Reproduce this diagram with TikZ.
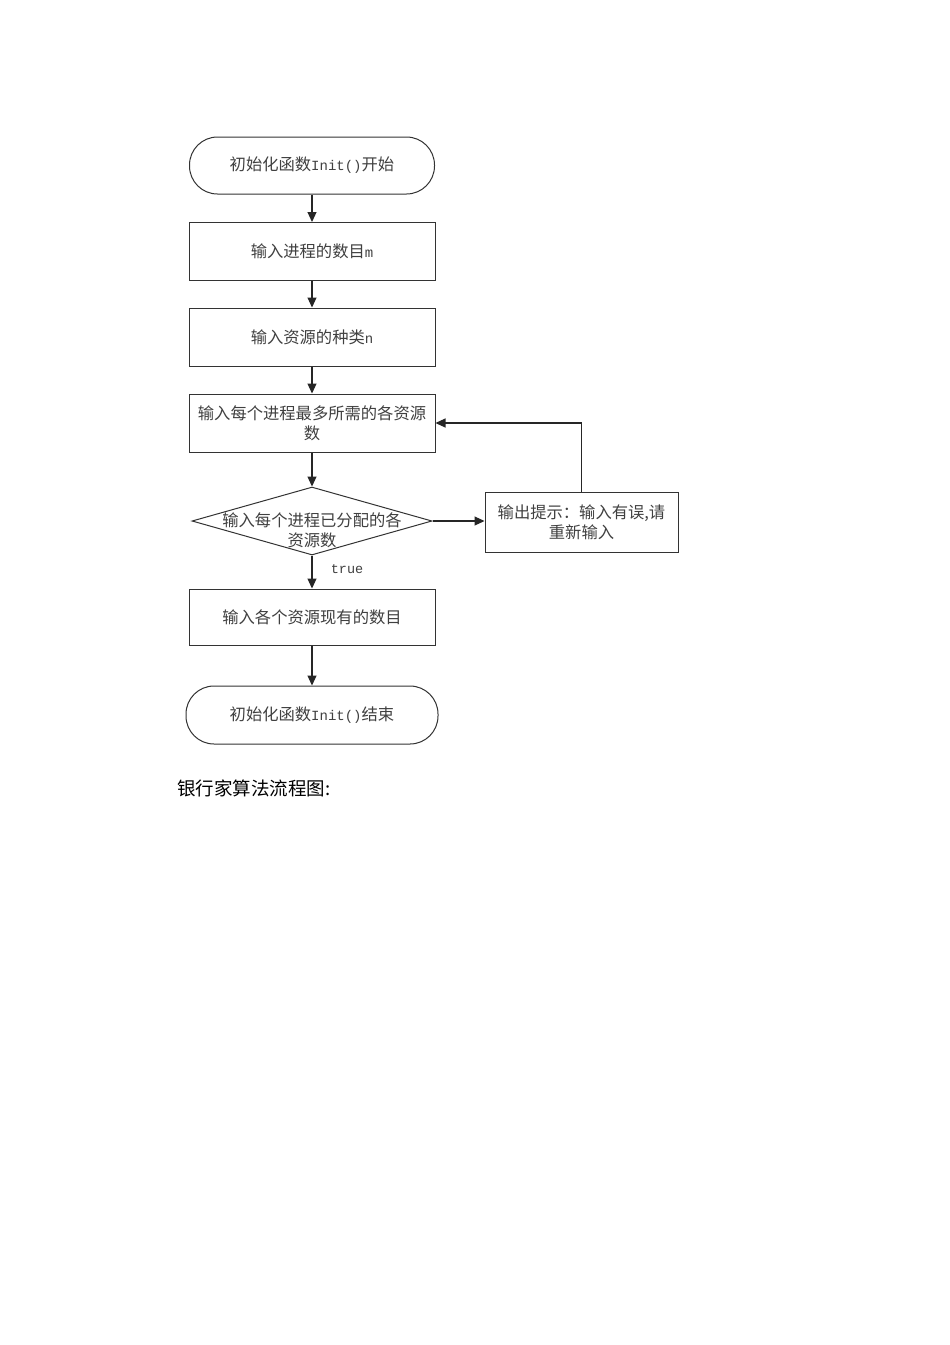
\documentclass[tikz,border=0pt]{standalone}
\usepackage{fontspec}
\setmainfont{Noto Sans CJK SC}
\newfontfamily\monof{Liberation Mono}
\newcommand{\lat}[1]{{\monof\fontsize{14pt}{20pt}\selectfont #1}}
\usetikzlibrary{arrows.meta,shapes.geometric}
\begin{document}
\begin{tikzpicture}[x=1pt,y=-1pt,
  every node/.style={font=\fontsize{16.3pt}{20pt}\selectfont, text=black!75},
  box/.style={draw=black!80, line width=1pt, rectangle, minimum width=246pt, minimum height=58pt, inner sep=0pt, align=center},
  term/.style={draw=black!80, line width=1pt, rectangle, rounded corners=28pt, minimum height=57pt, inner sep=0pt},
  dec/.style={draw=black!80, line width=1pt, diamond, minimum width=240pt, minimum height=68pt, inner sep=0pt},
  arr/.style={draw=black!85, line width=1.1pt, -{Triangle[length=10pt,width=9pt]}}
]
\useasboundingbox[fill=white] (0,0) rectangle (950,1345);

\node[term, minimum width=245pt] (start) at (312,165.5) {初始化函数\lat{Init()}开始};
\node[box] (b1) at (312,251.5) {输入进程的数目\lat{m}};
\node[box] (b2) at (312,337) {输入资源的种类\lat{n}};
\node[box] (b3) at (312,423) {输入每个进程最多所需的各资源\\数};
\node[dec] (d) at (312,521) {};
\node[align=center, inner sep=0pt] (dt) at (312,530) {输入每个进程已分配的各\\资源数};
\node[box, minimum width=193pt, minimum height=60pt] (err) at (581.5,522) {输出提示：输入有误,请\\重新输入};
\node[box, minimum height=56pt] (b4) at (312,617) {输入各个资源现有的数目};
\node[term, minimum width=252pt, minimum height=58pt] (end) at (312,715) {初始化函数\lat{Init()}结束};
\node[inner sep=0pt, font=\monof\fontsize{13.5pt}{15pt}\selectfont] (tl) at (347,569) {true};
\node[anchor=west, inner sep=0pt, font=\fontsize{18.5pt}{22pt}\selectfont, text=black] (cap) at (177,788) {银行家算法流程图:};

\draw[arr] (start) -- (b1);
\draw[arr] (b1) -- (b2);
\draw[arr] (b2) -- (b3);
\draw[arr] (b3) -- (d.north);
\draw[arr] (d.south) -- (b4);
\draw[arr] (b4) -- (end);
\draw[arr] (d.east) -- (d.east -| err.west);
\draw[arr] (err.north) |- (b3.east);
\end{tikzpicture}
\end{document}
